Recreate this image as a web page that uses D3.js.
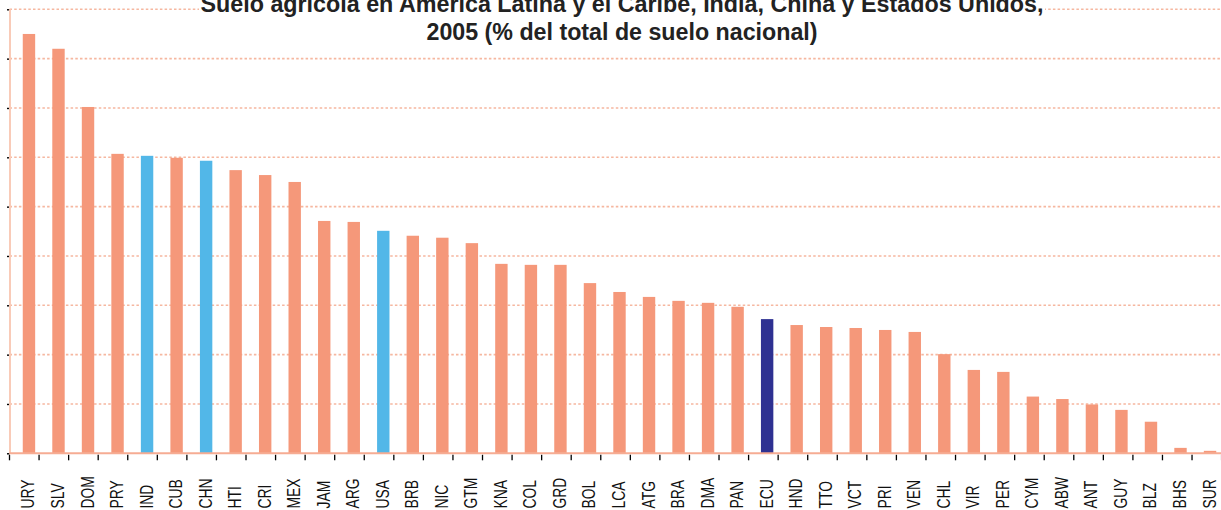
<!DOCTYPE html>
<html>
<head>
<meta charset="utf-8">
<script src="https://cdn.jsdelivr.net/npm/d3@7"></script>
<style>
  html, body { margin: 0; padding: 0; background: #fff; }
  svg { display: block; }
</style>
</head>
<body>
<svg id="chart" width="1221" height="510"></svg>
<script>
const titleLines = [
  "Suelo agrícola en América Latina y el Caribe, India, China y Estados Unidos,",
  "2005 (% del total de suelo nacional)"
];
const categories = ["URY","SLV","DOM","PRY","IND","CUB","CHN","HTI","CRI","MEX",
  "JAM","ARG","USA","BRB","NIC","GTM","KNA","COL","GRD","BOL",
  "LCA","ATG","BRA","DMA","PAN","ECU","HND","TTO","VCT","PRI",
  "VEN","CHL","VIR","PER","CYM","ABW","ANT","GUY","BLZ","BHS","SUR"];
const values = [85.0, 82.0, 70.2, 60.7, 60.3, 59.9, 59.3, 57.4, 56.4, 55.0,
  47.1, 46.9, 45.1, 44.1, 43.7, 42.6, 38.4, 38.2, 38.2, 34.5,
  32.7, 31.7, 30.9, 30.5, 29.7, 27.2, 26.0, 25.6, 25.4, 25.0,
  24.6, 20.1, 16.9, 16.5, 11.5, 11.0, 9.9, 8.8, 6.4, 1.1, 0.5];
const referenceCountries = ["IND","CHN","USA"];
const focusCountry = "ECU";
const yTicks = [0,10,20,30,40,50,60,70,80,90];

const colors = { base: "#F5987A", reference: "#52B7E8", focus: "#2E3192" };
const data = categories.map((c, i) => ({ code: c, value: values[i] }));

const svg = d3.select("#chart");
const plotLeft = 9.5, plotRight = 1221.6, baseY = 453.3, topY = 9.3;

const y = d3.scaleLinear().domain([0, 90]).range([baseY, topY]);
const xSlots = d3.scaleBand().domain(categories).range([plotLeft, plotRight]).padding(0);
const xBars = d3.scaleBand().domain(categories).range([14.2, 1224.8]).paddingInner(0.58).paddingOuter(0.29);

// gridlines
svg.append("g").selectAll("line").data(yTicks.filter(t => t > 0)).join("line")
  .attr("x1", plotLeft).attr("x2", 1221)
  .attr("y1", d => y(d)).attr("y2", d => y(d))
  .attr("stroke", "#F6B7A0").attr("stroke-width", 1.6)
  .attr("stroke-dasharray", "2.5,2.2");

// y axis ticks
const yAxis = d3.axisLeft(y).tickValues(yTicks).tickSize(2.5).tickFormat("");
const gy = svg.append("g").attr("transform", `translate(${plotLeft},0)`).call(yAxis);
gy.select(".domain").remove();
gy.selectAll(".tick line").attr("stroke", "#000").attr("stroke-width", 1.4);

// y axis line
svg.append("line").attr("x1", plotLeft + 0.5).attr("x2", plotLeft + 0.5)
  .attr("y1", topY).attr("y2", baseY)
  .attr("stroke", "#F9CBB8").attr("stroke-width", 2);

// bars
svg.append("g").selectAll("rect").data(data).join("rect")
  .attr("x", d => xBars(d.code))
  .attr("width", xBars.bandwidth())
  .attr("y", d => y(d.value))
  .attr("height", d => y(0) - y(d.value))
  .attr("fill", d => d.code === focusCountry ? colors.focus
        : referenceCountries.includes(d.code) ? colors.reference : colors.base);

// baseline
svg.append("line").attr("x1", plotLeft).attr("x2", 1221)
  .attr("y1", baseY).attr("y2", baseY)
  .attr("stroke", "#F6AC93").attr("stroke-width", 2);

// x ticks at slot boundaries
const boundaries = categories.map(c => xSlots(c)).concat([plotRight]);
svg.append("g").selectAll("line").data(boundaries).join("line")
  .attr("x1", d => d).attr("x2", d => d)
  .attr("y1", baseY + 1.5).attr("y2", baseY + 7)
  .attr("stroke", "#000").attr("stroke-width", 1.3);

// category labels
svg.append("g").selectAll("text").data(data).join("text")
  .attr("transform", d => `translate(${xBars(d.code) + xBars.bandwidth() / 2 + 5.5},508.5) rotate(-90) scale(0.77,1)`)
  .attr("text-anchor", "start")
  .attr("font-family", "'Liberation Sans', Arial, sans-serif")
  .attr("font-size", 18)
  .attr("fill", "#111")
  .text(d => d.code);

// title
svg.append("rect").attr("x", 199).attr("y", 0).attr("width", 846).attr("height", 14).attr("fill", "#fff");
const titleCenter = 622;
const titleWidths = [843, 391];
const titleBaselines = [12, 40];
titleLines.forEach((t, i) => {
  svg.append("text")
    .attr("x", titleCenter).attr("y", titleBaselines[i])
    .attr("text-anchor", "middle")
    .attr("font-family", "'Liberation Sans', Arial, sans-serif")
    .attr("font-weight", "bold")
    .attr("font-size", 23)
    .attr("fill", "#222")
    .attr("textLength", titleWidths[i])
    .attr("lengthAdjust", "spacingAndGlyphs")
    .text(t);
});
</script>
</body>
</html>
